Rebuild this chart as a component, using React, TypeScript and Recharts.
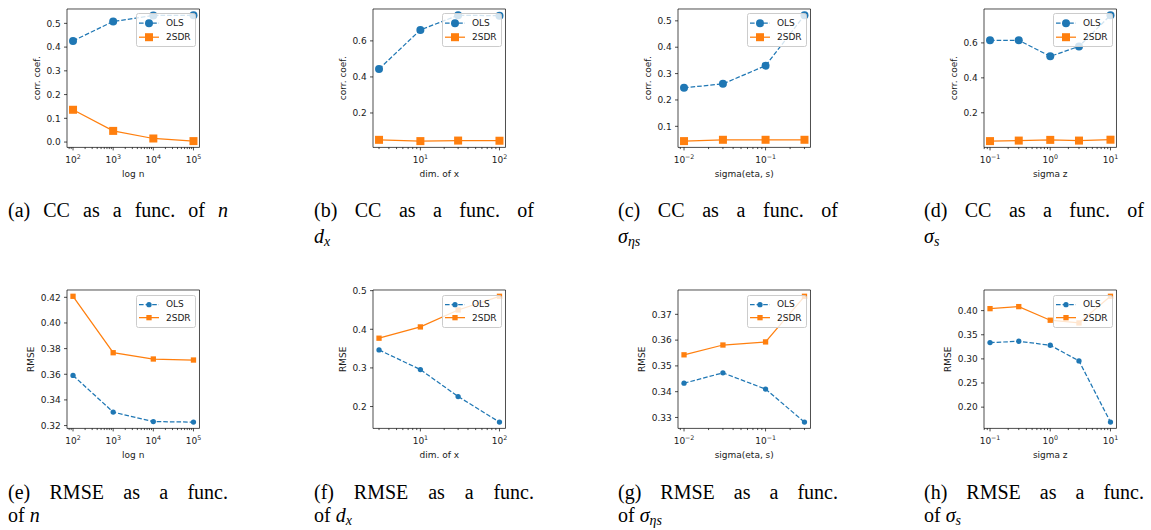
import type { ReactNode } from "react";
import { Legend, Line, LineChart, ReferenceArea, XAxis, YAxis } from "recharts";

const BLUE = "#1f77b4";
const ORANGE = "#ff7f0e";
const INK = "#1a1a1a";
const FONT = "'DejaVu Sans', sans-serif";
const SERIF = "'Liberation Serif', serif";

// swept parameters (x axes)
const N_VALUES = [1e2, 1e3, 1e4, 1e5];
const DX_VALUES = [3, 10, 30, 100];
const SIGMA_ETA_VALUES = [0.01, 0.03, 0.1, 0.3];
const SIGMA_Z_VALUES = [0.1, 0.3, 1, 3, 10];

// correlation coefficient
const CC_N_OLS = [0.426, 0.508, 0.533, 0.534];
const CC_N_SDR = [0.136, 0.047, 0.015, 0.004];
const CC_DX_OLS = [0.444, 0.661, 0.742, 0.74];
const CC_DX_SDR = [0.051, 0.044, 0.047, 0.046];
const CC_ETA_OLS = [0.246, 0.261, 0.33, 0.521];
const CC_ETA_SDR = [0.044, 0.049, 0.049, 0.049];
const CC_Z_OLS = [0.615, 0.615, 0.523, 0.58, 0.758];
const CC_Z_SDR = [0.038, 0.041, 0.045, 0.041, 0.046];

// RMSE
const RMSE_N_OLS = [0.3591, 0.3305, 0.3231, 0.3227];
const RMSE_N_SDR = [0.4208, 0.3768, 0.3719, 0.3711];
const RMSE_DX_OLS = [0.3466, 0.2957, 0.2259, 0.1597];
const RMSE_DX_SDR = [0.3769, 0.4061, 0.45, 0.4854];
const RMSE_ETA_OLS = [0.3433, 0.3473, 0.341, 0.3282];
const RMSE_ETA_SDR = [0.3543, 0.3581, 0.3593, 0.377];
const RMSE_Z_OLS = [0.3337, 0.3365, 0.3282, 0.2958, 0.169];
const RMSE_Z_SDR = [0.4041, 0.4083, 0.3801, 0.3745, 0.4297];

// y tick values
const CC_N_TICKS = [0, 0.1, 0.2, 0.3, 0.4, 0.5];
const CC_DX_TICKS = [0.2, 0.4, 0.6];
const CC_ETA_TICKS = [0.1, 0.2, 0.3, 0.4, 0.5];
const CC_Z_TICKS = [0.2, 0.4, 0.6];
const RMSE_N_TICKS = [0.32, 0.34, 0.36, 0.38, 0.4, 0.42];
const RMSE_DX_TICKS = [0.2, 0.3, 0.4, 0.5];
const RMSE_ETA_TICKS = [0.33, 0.34, 0.35, 0.36, 0.37];
const RMSE_Z_TICKS = [0.2, 0.25, 0.3, 0.35, 0.4];

const SERIES_ORDER = ["ols", "sdr"];

// layout (px)
const COL_LEFT = [67, 373, 678, 984];
const ROW_TOP = [9.3, 290];
const PLOT_W = 132.5;
const PLOT_H = 138.4;
const MARGIN = { top: 4, right: 4, left: 0, bottom: 0 };
const X_AXIS_H = 53;
const CAPTION_LEFT = [8, 314, 618, 924];
const CAPTION_BASE = [
  [217, 243],
  [499, 522],
];

const FS = 9;
const LW = 1.25;
const DASH = "4.6 2";
const TICK_MAJOR = 3;
const TICK_MINOR = 1.7;
const TICK_PAD = 3.3;
const SPINE = 0.7;
const CAPTION_FS = 20;

type Panel = {
  x: number[];
  ols: number[];
  sdr: number[];
  yTicks: number[];
  digits: number;
  xLabel: string;
  yLabel: string;
  labelGap: number;
  caption: [ReactNode, ReactNode?];
};

const sub = (s: ReactNode) => (
  <span style={{ fontSize: "0.7em", position: "relative", top: "0.22em" }}>{s}</span>
);

const PANELS: Panel[][] = [
  [
    { x: N_VALUES, ols: CC_N_OLS, sdr: CC_N_SDR, yTicks: CC_N_TICKS, digits: 1, xLabel: "log n", yLabel: "corr. coef.", labelGap: 30, caption: [<>(a) CC as a func. of <i>n</i></>] },
    { x: DX_VALUES, ols: CC_DX_OLS, sdr: CC_DX_SDR, yTicks: CC_DX_TICKS, digits: 1, xLabel: "dim. of x", yLabel: "corr. coef.", labelGap: 30, caption: ["(b) CC as a func. of", <><i>d</i>{sub(<i>x</i>)}</>] },
    { x: SIGMA_ETA_VALUES, ols: CC_ETA_OLS, sdr: CC_ETA_SDR, yTicks: CC_ETA_TICKS, digits: 1, xLabel: "sigma(eta, s)", yLabel: "corr. coef.", labelGap: 30, caption: ["(c) CC as a func. of", <><i>σ</i>{sub(<i>ηs</i>)}</>] },
    { x: SIGMA_Z_VALUES, ols: CC_Z_OLS, sdr: CC_Z_SDR, yTicks: CC_Z_TICKS, digits: 1, xLabel: "sigma z", yLabel: "corr. coef.", labelGap: 30.5, caption: ["(d) CC as a func. of", <><i>σ</i>{sub(<i>s</i>)}</>] },
  ],
  [
    { x: N_VALUES, ols: RMSE_N_OLS, sdr: RMSE_N_SDR, yTicks: RMSE_N_TICKS, digits: 2, xLabel: "log n", yLabel: "RMSE", labelGap: 36, caption: ["(e) RMSE as a func.", <>of <i>n</i></>] },
    { x: DX_VALUES, ols: RMSE_DX_OLS, sdr: RMSE_DX_SDR, yTicks: RMSE_DX_TICKS, digits: 1, xLabel: "dim. of x", yLabel: "RMSE", labelGap: 30.5, caption: ["(f) RMSE as a func.", <>of <i>d</i>{sub(<i>x</i>)}</>] },
    { x: SIGMA_ETA_VALUES, ols: RMSE_ETA_OLS, sdr: RMSE_ETA_SDR, yTicks: RMSE_ETA_TICKS, digits: 2, xLabel: "sigma(eta, s)", yLabel: "RMSE", labelGap: 36, caption: ["(g) RMSE as a func.", <>of <i>σ</i>{sub(<i>ηs</i>)}</>] },
    { x: SIGMA_Z_VALUES, ols: RMSE_Z_OLS, sdr: RMSE_Z_SDR, yTicks: RMSE_Z_TICKS, digits: 2, xLabel: "sigma z", yLabel: "RMSE", labelGap: 36, caption: ["(h) RMSE as a func.", <>of <i>σ</i>{sub(<i>s</i>)}</>] },
  ],
];

// matplotlib-style autoscale: 5% margin (in log space for x)
function padLinear(values: number[]): [number, number] {
  const lo = Math.min(...values);
  const hi = Math.max(...values);
  const m = (hi - lo) * 0.05;
  return [lo - m, hi + m];
}

function padLog(values: number[]): [number, number] {
  const lo = Math.log10(Math.min(...values));
  const hi = Math.log10(Math.max(...values));
  const m = (hi - lo) * 0.05;
  return [10 ** (lo - m), 10 ** (hi + m)];
}

function logTicks([lo, hi]: [number, number]): number[] {
  const out: number[] = [];
  for (let k = Math.floor(Math.log10(lo)); k <= Math.ceil(Math.log10(hi)); k++) {
    for (let m = 1; m <= 9; m++) {
      const v = m * 10 ** k;
      if (v >= lo && v <= hi) out.push(v);
    }
  }
  return out;
}

function LogTick(props: any) {
  const { x, y, payload } = props;
  const e = Math.log10(payload.value);
  const major = Math.abs(e - Math.round(e)) < 1e-6;
  const exp = Math.round(e);
  return (
    <g>
      <line x1={x} x2={x} y1={y} y2={y + (major ? TICK_MAJOR : TICK_MINOR)} stroke="#000" strokeWidth={SPINE} />
      {major && (
        <text x={x} y={y + 15.5} textAnchor="middle" fontSize={FS} fontFamily={FONT} fill={INK}>
          10
          <tspan dy={-4} fontSize={6.3}>
            {exp < 0 ? `\u2212${-exp}` : exp}
          </tspan>
        </text>
      )}
    </g>
  );
}

function ValueTick(props: any) {
  const { x, y, payload, digits } = props;
  return (
    <g>
      <line x1={x - TICK_MAJOR} x2={x} y1={y} y2={y} stroke="#000" strokeWidth={SPINE} />
      <text x={x - TICK_MAJOR - TICK_PAD} y={y} dy="0.36em" textAnchor="end" fontSize={FS} fontFamily={FONT} fill={INK}>
        {Number(payload.value).toFixed(digits)}
      </text>
    </g>
  );
}

function circleDot(size: number) {
  return (p: any) =>
    p.cx == null ? <g key={p.index} /> : <circle key={p.index} cx={p.cx} cy={p.cy} r={size / 2} fill={BLUE} />;
}

function squareDot(size: number) {
  return (p: any) =>
    p.cx == null ? (
      <g key={p.index} />
    ) : (
      <rect key={p.index} x={p.cx - size / 2} y={p.cy - size / 2} width={size} height={size} fill={ORANGE} />
    );
}

function PanelLegend({ payload, big }: { payload?: any[]; big: boolean }) {
  const rowH = big ? 14.4 : 13.3;
  const ms = big ? 8 : 5.3;
  const entries = [...(payload ?? [])].sort(
    (a, b) => SERIES_ORDER.indexOf(a.dataKey) - SERIES_ORDER.indexOf(b.dataKey)
  );
  return (
    <div
      style={{
        boxSizing: "border-box",
        width: 60,
        padding: big ? "1.6px 0" : "2.2px 0",
        background: "rgba(255,255,255,0.8)",
        border: "0.7px solid #cccccc",
        borderRadius: 2.5,
        fontFamily: FONT,
        fontSize: FS,
        color: INK,
      }}
    >
      {entries.map((entry) => {
        const ols = entry.dataKey === "ols";
        return (
          <div key={entry.dataKey} style={{ display: "flex", alignItems: "center", height: rowH }}>
            <svg width={20} height={rowH} style={{ marginLeft: 2, flex: "none" }}>
              <line x1={0} x2={20} y1={rowH / 2} y2={rowH / 2} stroke={entry.color} strokeWidth={LW} strokeDasharray={ols ? DASH : undefined} />
              {ols ? (
                <circle cx={10} cy={rowH / 2} r={ms / 2} fill={entry.color} />
              ) : (
                <rect x={10 - ms / 2} y={rowH / 2 - ms / 2} width={ms} height={ms} fill={entry.color} />
              )}
            </svg>
            <span style={{ marginLeft: 7.5, lineHeight: 1 }}>{entry.value}</span>
          </div>
        );
      })}
    </div>
  );
}

function PanelChart({ panel, col, row }: { panel: Panel; col: number; row: number }) {
  const big = row === 0;
  const rows = panel.x.map((x, i) => ({ x, ols: panel.ols[i], sdr: panel.sdr[i] }));
  const xDomain = padLog(panel.x);
  const yDomain = padLinear([...panel.ols, ...panel.sdr]);
  const yW = panel.labelGap * 2;
  const ms = big ? 8 : 5.3;
  return (
    <div style={{ position: "absolute", left: COL_LEFT[col] - yW, top: ROW_TOP[row] - MARGIN.top }}>
      <LineChart width={yW + PLOT_W + MARGIN.right} height={MARGIN.top + PLOT_H + X_AXIS_H} data={rows} margin={MARGIN}>
        <XAxis
          dataKey="x"
          type="number"
          scale="log"
          domain={xDomain}
          ticks={logTicks(xDomain)}
          interval={0}
          height={X_AXIS_H}
          axisLine={false}
          tickLine={false}
          tickSize={0}
          tickMargin={0}
          tick={(p: any) => <LogTick {...p} />}
          label={{ value: panel.xLabel, position: "center", fontSize: FS, fill: INK, fontFamily: FONT }}
        />
        <YAxis
          type="number"
          domain={yDomain}
          ticks={panel.yTicks}
          interval={0}
          width={yW}
          axisLine={false}
          tickLine={false}
          tickSize={0}
          tickMargin={0}
          tick={(p: any) => <ValueTick {...p} digits={panel.digits} />}
          label={{ value: panel.yLabel, angle: -90, position: "center", fontSize: FS, fill: INK, fontFamily: FONT }}
        />
        <ReferenceArea
          x1={xDomain[0]}
          x2={xDomain[1]}
          y1={yDomain[0]}
          y2={yDomain[1]}
          ifOverflow="visible"
          fill="none"
          fillOpacity={0}
          stroke="#000"
          strokeWidth={SPINE}
        />
        <Line
          type="linear"
          dataKey="ols"
          name="OLS"
          stroke={BLUE}
          strokeWidth={LW}
          strokeDasharray={DASH}
          dot={circleDot(ms)}
          activeDot={false}
          isAnimationActive={false}
        />
        <Line
          type="linear"
          dataKey="sdr"
          name="2SDR"
          stroke={ORANGE}
          strokeWidth={LW}
          dot={squareDot(ms)}
          activeDot={false}
          isAnimationActive={false}
        />
        <Legend
          layout="vertical"
          align="center"
          verticalAlign="middle"
          wrapperStyle={{ left: yW + PLOT_W - 64, top: MARGIN.top + (big ? 4 : 5), width: 60, height: "auto" }}
          content={(p: any) => <PanelLegend payload={p.payload} big={big} />}
        />
      </LineChart>
    </div>
  );
}

function Caption({ left, baseline, children, justify }: { left: number; baseline: number; children: ReactNode; justify: boolean }) {
  return (
    <div
      style={{
        position: "absolute",
        left,
        top: baseline - (17.6 * CAPTION_FS) / 21,
        width: 220,
        fontFamily: SERIF,
        fontSize: CAPTION_FS,
        lineHeight: `${CAPTION_FS}px`,
        color: "#000",
        textAlign: "justify",
        textAlignLast: justify ? "justify" : "left",
      }}
    >
      {children}
    </div>
  );
}

export default function App() {
  return (
    <div style={{ position: "absolute", left: 0, top: 0, width: 1151, height: 530, background: "#fff", overflow: "hidden" }}>
      {PANELS.map((rowPanels, row) =>
        rowPanels.map((panel, col) => (
          <div key={`${row}-${col}`}>
            <PanelChart panel={panel} col={col} row={row} />
            <Caption left={CAPTION_LEFT[col]} baseline={CAPTION_BASE[row][0]} justify>
              {panel.caption[0]}
            </Caption>
            {panel.caption[1] && (
              <Caption left={CAPTION_LEFT[col]} baseline={CAPTION_BASE[row][1]} justify={false}>
                {panel.caption[1]}
              </Caption>
            )}
          </div>
        ))
      )}
    </div>
  );
}
